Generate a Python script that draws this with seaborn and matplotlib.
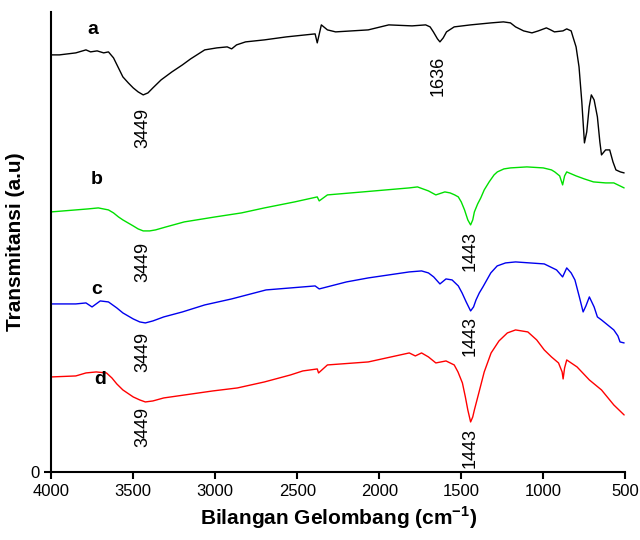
import matplotlib
matplotlib.use("Agg")
import matplotlib.pyplot as plt
import seaborn as sns
import pandas as pd

# --- data (wavenumber cm-1, transmittance a.u.) ---
wn_a = [4000, 3950, 3900, 3850, 3788, 3760, 3720, 3680, 3651, 3620, 3590, 3563, 3530,
        3500, 3470, 3439, 3410, 3380, 3330, 3264, 3200, 3150, 3064, 2990, 2927, 2900,
        2870, 2815, 2700, 2566, 2391, 2378, 2353, 2316, 2266, 2067, 1942, 1800, 1717,
        1690, 1670, 1645, 1630, 1610, 1590, 1543, 1443, 1318, 1243, 1200, 1169, 1120,
        1069, 1030, 981, 955, 932, 880, 857, 830, 819, 800, 782, 765, 749, 735, 720,
        707, 690, 670, 655, 645, 620, 595, 575, 557, 530, 507]
t_a = [417, 417, 418, 419, 422, 420, 421, 419, 420, 414, 404, 395, 389,
       384, 380, 377, 379, 384, 392, 400, 407, 413, 422, 424, 425, 423,
       427, 430, 432, 435, 438, 429, 447, 442, 440, 442, 447, 446, 447,
       445, 440, 433, 430, 434, 440, 445, 447, 449, 450, 449, 445, 441,
       439, 441, 444, 442, 440, 441, 443, 441, 435, 425, 405, 370, 329, 340, 365,
       377, 372, 355, 330, 317, 322, 322, 310, 302, 300, 299]

wn_b = [4000, 3850, 3775, 3713, 3651, 3620, 3590, 3563, 3500, 3470, 3439, 3400, 3364,
        3300, 3189, 3000, 2840, 2700, 2516, 2378, 2366, 2316, 2100, 1817, 1767, 1700,
        1655, 1600, 1568, 1540, 1518, 1500, 1480, 1460, 1443, 1430, 1420, 1400, 1381,
        1360, 1330, 1300, 1280, 1240, 1200, 1100, 1000, 950, 930, 900, 882, 870, 857,
        800, 750, 694, 620, 570, 507]
t_b = [260, 262, 263, 264, 262, 259, 255, 252, 246, 243, 241, 241, 242,
       245, 250, 255, 259, 264, 270, 275, 271, 277, 280, 284, 285, 281,
       277, 280, 279, 277, 275, 270, 262, 252, 247, 252, 260, 268, 274,
       282, 290, 297, 300, 303, 304, 305, 304, 302, 300, 296, 287, 296, 300,
       296, 293, 290, 289, 289, 284]

wn_c = [4000, 3850, 3788, 3751, 3701, 3651, 3600, 3563, 3500, 3460, 3426, 3380, 3314,
        3200, 3064, 2900, 2690, 2391, 2366, 2200, 2067, 1817, 1742, 1700, 1668, 1630,
        1593, 1556, 1518, 1495, 1470, 1443, 1425, 1410, 1390, 1368, 1320, 1281, 1230,
        1169, 994, 919, 882, 857, 830, 807, 780, 757, 740, 719, 690, 670, 645, 600,
        570, 545, 532, 507]
t_c = [168, 168, 169, 165, 171, 170, 164, 159, 153, 150, 149, 151, 155,
       160, 167, 173, 182, 186, 183, 190, 194, 200, 201, 199, 195, 188,
       193, 192, 186, 179, 170, 161, 165, 172, 179, 185, 199, 206, 209,
       210, 208, 202, 195, 204, 199, 192, 175, 160, 166, 175, 165,
       155, 152, 146, 142, 136, 130, 129]

wn_d = [4000, 3850, 3788, 3726, 3663, 3630, 3600, 3563, 3500, 3460, 3426, 3380, 3314,
        3015, 2865, 2700, 2541, 2466, 2378, 2370, 2316, 2067, 1817, 1780, 1742, 1700,
        1655, 1593, 1543, 1520, 1493, 1475, 1460, 1443, 1430, 1420, 1393, 1360, 1318,
        1270, 1219, 1169, 1094, 1040, 994, 950, 907, 885, 879, 870, 857, 794, 719,
        645, 570, 507]
t_d = [95, 96, 99, 100, 99, 94, 88, 82, 75, 72, 70, 71, 74,
       81, 84, 90, 97, 101, 103, 99, 107, 110, 119, 116, 119, 115,
       109, 111, 107, 100, 89, 75, 62, 50, 55, 62, 79, 100, 119,
       131, 139, 142, 140, 132, 122, 115, 109, 100, 93, 104, 112, 105, 92,
       82, 67, 57]

labels = ["a", "b", "c", "d"]
colors = ["black", "#00e000", "#0000ee", "#ff0000"]
label_pos = [(3744, 442), (3720, 292), (3720, 182), (3700, 92)]

# peak annotations: (wavenumber, y-center, text)
peaks = [(3439, 344, "3449"), (1643, 396, "1636"),
         (3439, 210, "3449"), (1443, 221, "1443"),
         (3439, 120, "3449"), (1443, 136, "1443"),
         (3439, 45, "3449"), (1443, 24, "1443")]

frames = []
for lab, wn, t in zip(labels, [wn_a, wn_b, wn_c, wn_d], [t_a, t_b, t_c, t_d]):
    frames.append(pd.DataFrame({"wn": wn, "T": t, "sampel": lab}))
df = pd.concat(frames, ignore_index=True)

sns.set_style("ticks")
plt.rcParams["font.family"] = ["Liberation Sans", "DejaVu Sans"]
plt.rcParams["text.color"] = "black"
plt.rcParams["axes.labelcolor"] = "black"
plt.rcParams["xtick.color"] = "black"
plt.rcParams["ytick.color"] = "black"
plt.rcParams["mathtext.fontset"] = "custom"
plt.rcParams["mathtext.rm"] = "Liberation Sans"
plt.rcParams["mathtext.bf"] = "Liberation Sans:bold"

fig = plt.figure(figsize=(6.4, 5.4), dpi=100)
ax = fig.add_axes([0.08, 0.126, 0.897, 0.852])

sns.lineplot(data=df, x="wn", y="T", hue="sampel", palette=colors,
             estimator=None, sort=False, linewidth=1.0, legend=False, ax=ax)

for (x, y), lab in zip(label_pos, labels):
    ax.text(x, y, lab, fontsize=14, fontweight="bold", ha="center", va="center")

for x, y, txt in peaks:
    ax.text(x, y, txt, fontsize=13, rotation=90, ha="center", va="center")

ax.set_xlim(4000, 500)
ax.set_ylim(0, 460)
ax.set_xticks([4000, 3500, 3000, 2500, 2000, 1500, 1000, 500])
ax.set_yticks([0])
ax.tick_params(axis="both", labelsize=12, width=1.5, length=5, direction="out")
ax.set_xlabel("Bilangan Gelombang (cm$^{\\mathbf{-1}}$)", fontsize=15, fontweight="bold")
ax.set_ylabel("Transmitansi (a.u)", fontsize=15, fontweight="bold")
sns.despine(ax=ax)
for s in ["left", "bottom"]:
    ax.spines[s].set_linewidth(1.5)
    ax.spines[s].set_color("black")

fig.savefig("out.png", dpi=100)
